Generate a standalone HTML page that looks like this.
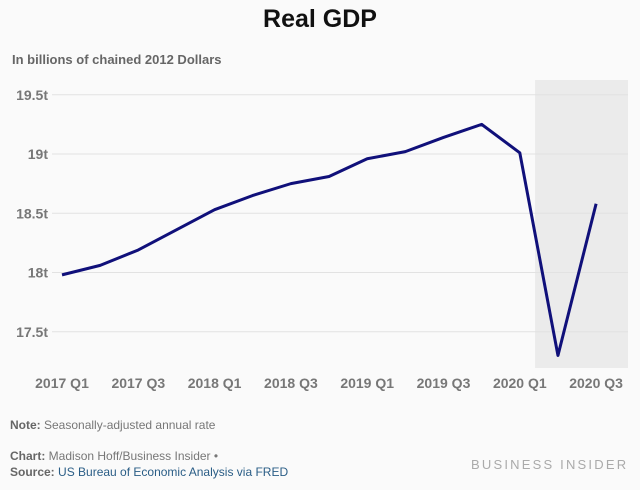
<!DOCTYPE html>
<html><head><meta charset="utf-8"><style>
body{margin:0;background:#fafafa;font-family:"Liberation Sans",sans-serif;}
#wrap{position:relative;width:640px;height:490px;overflow:hidden;}
.t{position:absolute;white-space:nowrap;}
</style></head><body>
<div id="wrap">
<div class="t" style="left:0;width:640px;text-align:center;top:5px;font-size:25px;font-weight:bold;color:#111;">Real GDP</div>
<div class="t" style="left:12px;top:52px;font-size:13px;font-weight:bold;color:#666;">In billions of chained 2012 Dollars</div>
<svg id="chart" width="640" height="400" style="position:absolute;left:0;top:0"></svg>
<div class="t" style="left:10px;top:418px;font-size:12px;color:#777;"><b style="color:#666">Note:</b> Seasonally-adjusted annual rate</div>
<div class="t" style="left:10px;top:449px;font-size:12px;color:#777;"><b style="color:#666">Chart:</b> Madison Hoff/Business Insider •</div>
<div class="t" style="left:10px;top:465px;font-size:12px;color:#2a5d86;"><b style="color:#666">Source:</b> US Bureau of Economic Analysis via FRED</div>
<div class="t" style="left:471px;top:457px;font-size:13px;letter-spacing:2.2px;color:#aaa;">BUSINESS INSIDER</div>
</div>
<script>
const categories=["2017 Q1","2017 Q2","2017 Q3","2017 Q4","2018 Q1","2018 Q2","2018 Q3","2018 Q4","2019 Q1","2019 Q2","2019 Q3","2019 Q4","2020 Q1","2020 Q2","2020 Q3"];
const gdpValues=[17.98,18.06,18.19,18.36,18.53,18.65,18.75,18.81,18.96,19.02,19.14,19.25,19.01,17.30,18.58];
const yTicks=[17.5,18,18.5,19,19.5];
const yTickLabels=["17.5t","18t","18.5t","19t","19.5t"];
const shadedStart=12.4;
const NS="http://www.w3.org/2000/svg";
const svg=document.getElementById('chart');
function x(i){return 62+i*38.15;}
function y(v){return 272.5-(v-18)*118.5;}
function mk(tag,attrs){const e=document.createElementNS(NS,tag);for(const k in attrs)e.setAttribute(k,attrs[k]);svg.appendChild(e);return e;}
const sh=mk('rect',{x:x(shadedStart),y:80,width:628-x(shadedStart),height:288,fill:'#ebebeb'});


yTicks.forEach((v,i)=>{
  const g=mk('line',{x1:52,x2:628,y1:y(v),y2:y(v),stroke:'#e2e2e2','stroke-width':1});
  
  
  const t=mk('text',{x:48,y:y(v)+5,'font-size':14,'font-weight':'bold',fill:'#777','text-anchor':'end'});
  t.textContent=yTickLabels[i];
  
  
});
categories.forEach((c,i)=>{
  if(i%2)return;
  const t=mk('text',{x:x(i),y:388,'font-size':14,'font-weight':'bold',fill:'#777','text-anchor':'middle'});
  t.textContent=c;
  
  
});
const p=mk('polyline',{points:gdpValues.map((v,i)=>x(i)+','+y(v)).join(' '),fill:'none',stroke:'#10107a','stroke-width':3,'stroke-linejoin':'round'});


</script>
</body></html>
